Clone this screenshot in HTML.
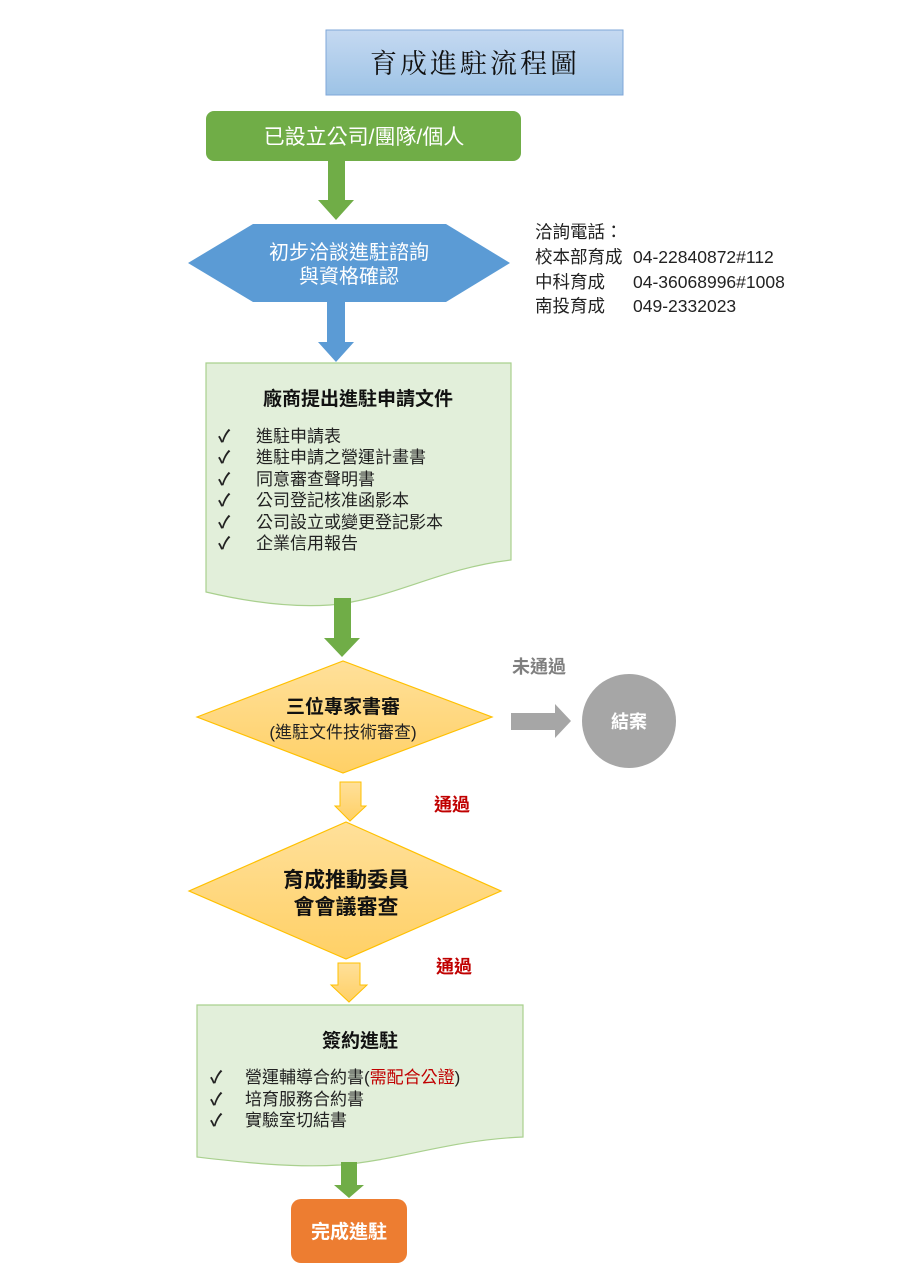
<!DOCTYPE html>
<html><head><meta charset="utf-8"><style>
html,body{margin:0;padding:0;background:#fff;}
svg{display:block;}
text{font-family:"Liberation Sans","Noto Sans CJK TC",sans-serif;}
</style></head><body>
<svg width="900" height="1277" viewBox="0 0 900 1277" xmlns="http://www.w3.org/2000/svg">
<defs>
<linearGradient id="tg" x1="0" y1="0" x2="0" y2="1"><stop offset="0" stop-color="#c5d9f1"/><stop offset="1" stop-color="#9dc3e6"/></linearGradient>
<linearGradient id="yg" x1="0" y1="0" x2="0" y2="1"><stop offset="0" stop-color="#ffe09a"/><stop offset="1" stop-color="#ffd066"/></linearGradient>
</defs>
<rect x="326" y="30" width="297" height="65" fill="url(#tg)" stroke="#7fa7d8" stroke-width="1"/>
<text x="475" y="73" text-anchor="middle" font-size="27" fill="#111" letter-spacing="3" style="font-family:'Noto Serif CJK SC','Liberation Serif',serif">育成進駐流程圖</text>
<rect x="206" y="111" width="315" height="50" rx="8" fill="#70ad47"/>
<text x="364" y="144" text-anchor="middle" font-size="21" fill="#fff">已設立公司/團隊/個人</text>
<polygon points="328,161 345,161 345,200 354,200 336,220 318,200 328,200" fill="#70ad47"/>
<polygon points="188,263 253,224 446,224 510,263 446,302 253,302" fill="#5b9bd5"/>
<text x="349" y="259" text-anchor="middle" font-size="20" fill="#fff">初步洽談進駐諮詢</text>
<text x="349" y="283" text-anchor="middle" font-size="20" fill="#fff">與資格確認</text>
<polygon points="327,302 345,302 345,342 354,342 336,362 318,342 327,342" fill="#5b9bd5"/>
<g font-size="17.5" fill="#222">
<text x="535" y="238">洽詢電話：</text>
<text x="535" y="263">校本部育成</text><text x="633" y="263">04-22840872#112</text>
<text x="535" y="288">中科育成</text><text x="633" y="288">04-36068996#1008</text>
<text x="535" y="312">南投育成</text><text x="633" y="312">049-2332023</text>
</g>
<path d="M206,363 H511 V560 C440,568 390,600 330,605 C285,608 240,600 206,592 Z" fill="#e2efda" stroke="#a9d08e" stroke-width="1.2"/>
<text x="358" y="405" text-anchor="middle" font-size="19" font-weight="bold" fill="#111">廠商提出進駐申請文件</text>
<g font-size="17" fill="#222">
<text x="218" y="442" font-weight="bold">✓</text><text x="256" y="442">進駐申請表</text>
<text x="218" y="463" font-weight="bold">✓</text><text x="256" y="463">進駐申請之營運計畫書</text>
<text x="218" y="485" font-weight="bold">✓</text><text x="256" y="485">同意審查聲明書</text>
<text x="218" y="506" font-weight="bold">✓</text><text x="256" y="506">公司登記核准函影本</text>
<text x="218" y="528" font-weight="bold">✓</text><text x="256" y="528">公司設立或變更登記影本</text>
<text x="218" y="549" font-weight="bold">✓</text><text x="256" y="549">企業信用報告</text>
</g>
<polygon points="334,598 351,598 351,638 360,638 342,657 324,638 334,638" fill="#70ad47"/>
<polygon points="197,717 343,661 492,717 343,773" fill="url(#yg)" stroke="#ffc000" stroke-width="1.2"/>
<text x="343" y="713" text-anchor="middle" font-size="19" font-weight="bold" fill="#111">三位專家書審</text>
<text x="343" y="738" text-anchor="middle" font-size="17" fill="#222">(進駐文件技術審查)</text>
<text x="512" y="673" font-size="18" font-weight="bold" fill="#7f7f7f">未通過</text>
<polygon points="511,713 555,713 555,704 571,721 555,738 555,730 511,730" fill="#a6a6a6"/>
<circle cx="629" cy="721" r="47" fill="#a6a6a6"/>
<text x="629" y="728" text-anchor="middle" font-size="18" fill="#fff" font-weight="bold">結案</text>
<polygon points="340,782 361,782 361,806 366,806 350,821 335,806 340,806" fill="url(#yg)" stroke="#ffc000" stroke-width="1"/>
<text x="434" y="811" font-size="18" font-weight="bold" fill="#c00000">通過</text>
<polygon points="189,891 346,822 501,891 346,959" fill="url(#yg)" stroke="#ffc000" stroke-width="1.2"/>
<text x="346" y="887" text-anchor="middle" font-size="21" font-weight="bold" fill="#111">育成推動委員</text>
<text x="346" y="914" text-anchor="middle" font-size="21" font-weight="bold" fill="#111">會會議審查</text>
<polygon points="338,963 360,963 360,985 367,985 349,1002 331,985 338,985" fill="url(#yg)" stroke="#ffc000" stroke-width="1"/>
<text x="436" y="973" font-size="18" font-weight="bold" fill="#c00000">通過</text>
<path d="M197,1005 H523 V1137 C450,1140 400,1160 340,1165 C290,1168 240,1162 197,1157 Z" fill="#e2efda" stroke="#a9d08e" stroke-width="1.2"/>
<text x="360" y="1047" text-anchor="middle" font-size="19" font-weight="bold" fill="#111">簽約進駐</text>
<g font-size="17" fill="#222">
<text x="210" y="1083" font-weight="bold">✓</text><text x="245" y="1083">營運輔導合約書(<tspan fill="#c00000">需配合公證</tspan>)</text>
<text x="210" y="1105" font-weight="bold">✓</text><text x="245" y="1105">培育服務合約書</text>
<text x="210" y="1126" font-weight="bold">✓</text><text x="245" y="1126">實驗室切結書</text>
</g>
<polygon points="341,1162 357,1162 357,1185 364,1185 349,1198 334,1185 341,1185" fill="#70ad47"/>
<rect x="291" y="1199" width="116" height="64" rx="10" fill="#ed7d31"/>
<text x="349" y="1238" text-anchor="middle" font-size="19" font-weight="bold" fill="#fff">完成進駐</text>
</svg>
</body></html>
